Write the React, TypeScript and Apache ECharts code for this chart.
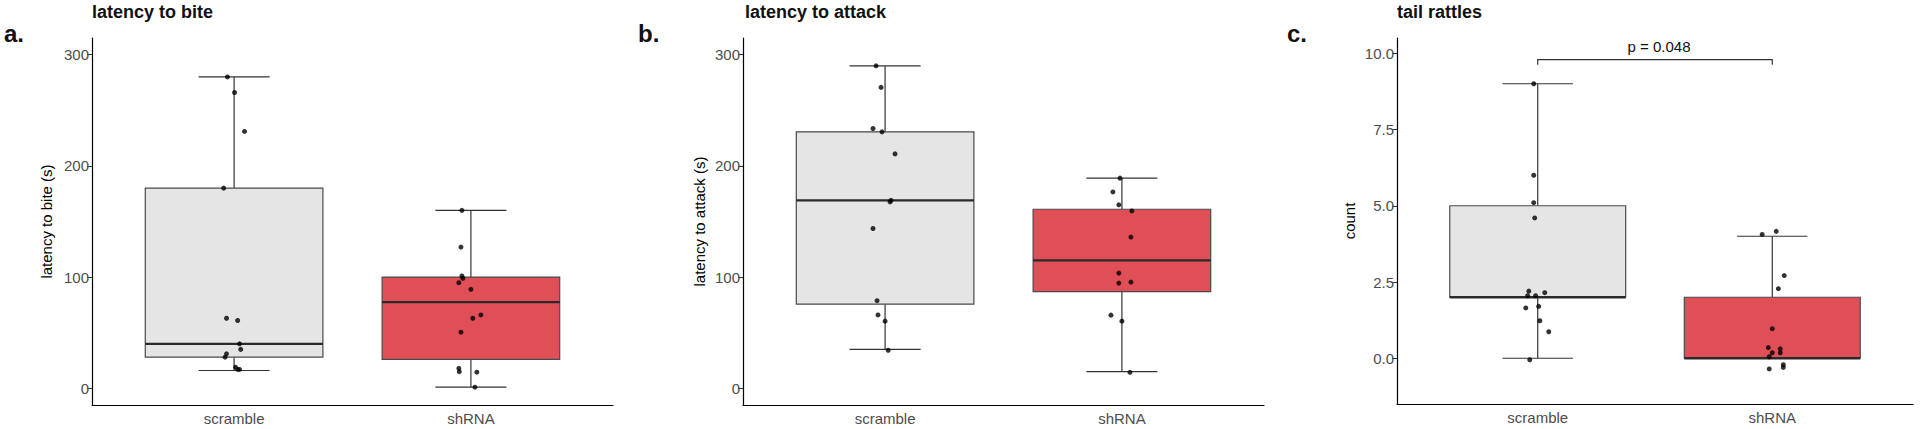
import React, { useEffect, useRef } from 'react';
import * as echarts from 'echarts';

const categories = ['scramble', 'shRNA'];
const panelTitles = ['latency to bite', 'latency to attack', 'tail rattles'];
const panelLetters = ['a.', 'b.', 'c.'];
const yAxisTitles = ['latency to bite (s)', 'latency to attack (s)', 'count'];

const latencyTicks = [0, 100, 200, 300];
const countTicks = [0, 2.5, 5, 7.5, 10];

// box stats: [lower whisker, Q1, median, Q3, upper whisker]
const biteBoxScramble = [16, 28, 40, 180, 280];
const biteBoxShRNA = [1, 26, 77.5, 100, 160];
const attackBoxScramble = [35, 75.7, 169, 230.6, 290];
const attackBoxShRNA = [15, 87, 115, 161, 189];
const rattleBoxScramble = [0, 2, 2, 5, 9];
const rattleBoxShRNA = [0, 0, 0, 2, 4];

// jittered points (x position on the group axis, value)
const biteScrambleX = [0.972, 1.002, 1.044, 0.956, 0.968, 1.015, 1.023, 1.028, 0.968, 0.962, 1.006, 1.015, 1.023];
const biteScrambleY = [280, 266, 231, 180, 63, 61, 40, 35, 31, 28, 19, 17, 17];
const biteShRNAX = [1.962, 1.958, 1.962, 1.966, 1.949, 2.0, 2.042, 2.008, 1.958, 1.949, 1.951, 2.025, 2.017];
const biteShRNAY = [160, 127, 101, 99, 95, 89, 66, 63, 50.5, 18, 15, 14.5, 1];

const attackScrambleX = [0.962, 0.983, 0.949, 0.987, 1.042, 1.025, 1.021, 0.949, 0.966, 0.97, 1.0, 1.013];
const attackScrambleY = [290, 270.6, 233.6, 230.6, 210.8, 169, 167.6, 143.7, 78.8, 66, 60.4, 34.2];
const attackShRNAX = [1.992, 1.962, 1.987, 2.042, 2.038, 1.987, 1.987, 2.038, 1.954, 2.0, 2.034];
const attackShRNAY = [189, 176.6, 165, 159.5, 136, 103.6, 94.6, 95.5, 65.8, 60.4, 14.4];

const rattleScrambleX = [0.983, 0.983, 0.983, 0.987, 0.962, 1.03, 0.957, 0.991, 0.949, 1.004, 1.009, 1.047, 0.966];
const rattleScrambleY = [9.0, 6.0, 5.1, 4.6, 2.2, 2.15, 2.05, 2.05, 1.65, 1.7, 1.23, 0.87, -0.05];
const rattleShRNAX = [1.957, 2.017, 2.051, 2.026, 2.0, 1.983, 2.034, 2.0, 2.034, 1.987, 2.047, 2.047, 1.987];
const rattleShRNAY = [4.06, 4.16, 2.71, 2.28, 0.97, 0.35, 0.31, 0.18, 0.18, 0.05, -0.21, -0.3, -0.35];

// significance bracket in panel c: [x1, x2, top, legBottom]
const rattleBracket = [1, 2, 9.79, 9.62];
const rattlePLabel = 'p = 0.048';

const boxFills = ['#E5E5E5', '#E04F57'];

const FONT = "'Liberation Sans', Arial, sans-serif";

export default function App() {
  const ref = useRef<HTMLDivElement>(null);

  useEffect(() => {
    if (!ref.current) return;
    const chart = echarts.init(ref.current, null, { renderer: 'svg' });

    const grids = [
      { left: 92, top: 38, width: 521, height: 367 },
      { left: 743, top: 38, width: 521, height: 367 },
      { left: 1397, top: 38, width: 516, height: 366 },
    ];

    const yRanges = [
      [-15, 315],
      [-15, 315],
      [-1.5, 10.5],
    ];
    const yTicks = [latencyTicks, latencyTicks, countTicks];
    const nameGaps = [38, 36, 40];

    const xAxes = grids.map((_, i) => ({
      type: 'value',
      gridIndex: i,
      min: 0.4,
      max: 2.6,
      splitLine: { show: false },
      axisLine: { show: true, onZero: false, lineStyle: { color: '#000', width: 1.2 } },
      axisTick: { show: false },
      axisLabel: {
        customValues: [1, 2],
        formatter: (v: number) => categories[Math.round(v) - 1] ?? '',
        color: '#4D4D4D',
        fontSize: 15,
        fontFamily: FONT,
        margin: 6,
      },
    }));

    const yAxes = grids.map((_, i) => ({
      type: 'value',
      gridIndex: i,
      min: yRanges[i][0],
      max: yRanges[i][1],
      name: yAxisTitles[i],
      nameLocation: 'middle',
      nameGap: nameGaps[i],
      nameRotate: 90,
      nameTextStyle: { color: '#000', fontSize: 15, fontFamily: FONT },
      splitLine: { show: false },
      axisLine: { show: true, onZero: false, lineStyle: { color: '#000', width: 1.2 } },
      axisTick: { show: true, customValues: yTicks[i], length: 5, lineStyle: { color: '#333', width: 1 } },
      axisLabel: {
        customValues: yTicks[i],
        formatter: (v: number) => (i === 2 ? v.toFixed(1) : String(v)),
        color: '#4D4D4D',
        fontSize: 15,
        fontFamily: FONT,
        margin: 3,
      },
    }));

    const renderBox = (params: any, api: any) => {
      const x = api.value(0);
      const lo = api.value(1), q1 = api.value(2), med = api.value(3), q3 = api.value(4), hi = api.value(5);
      const pLo = api.coord([x, lo]);
      const pQ1 = api.coord([x, q1]);
      const pMed = api.coord([x, med]);
      const pQ3 = api.coord([x, q3]);
      const pHi = api.coord([x, hi]);
      const halfW = api.size([0.75, 0])[0] / 2;
      const capHalf = api.size([0.3, 0])[0] / 2;
      const cx = pMed[0];
      const lineStyle = { stroke: '#333', lineWidth: 1.2 };
      return {
        type: 'group',
        children: [
          { type: 'line', shape: { x1: cx, y1: pQ3[1], x2: cx, y2: pHi[1] }, style: lineStyle },
          { type: 'line', shape: { x1: cx, y1: pQ1[1], x2: cx, y2: pLo[1] }, style: lineStyle },
          { type: 'line', shape: { x1: cx - capHalf, y1: pHi[1], x2: cx + capHalf, y2: pHi[1] }, style: lineStyle },
          { type: 'line', shape: { x1: cx - capHalf, y1: pLo[1], x2: cx + capHalf, y2: pLo[1] }, style: lineStyle },
          {
            type: 'rect',
            shape: { x: cx - halfW, y: pQ3[1], width: halfW * 2, height: pQ1[1] - pQ3[1] },
            style: { fill: boxFills[params.dataIndex], stroke: '#4a4a4a', lineWidth: 1.2 },
          },
          { type: 'line', shape: { x1: cx - halfW, y1: pMed[1], x2: cx + halfW, y2: pMed[1] }, style: { stroke: '#2a2a2a', lineWidth: 2.4 } },
        ],
      };
    };

    const boxData = [
      [biteBoxScramble, biteBoxShRNA],
      [attackBoxScramble, attackBoxShRNA],
      [rattleBoxScramble, rattleBoxShRNA],
    ];
    const pointData = [
      [[biteScrambleX, biteScrambleY], [biteShRNAX, biteShRNAY]],
      [[attackScrambleX, attackScrambleY], [attackShRNAX, attackShRNAY]],
      [[rattleScrambleX, rattleScrambleY], [rattleShRNAX, rattleShRNAY]],
    ];

    const series: any[] = [];
    boxData.forEach((boxes, i) => {
      series.push({
        type: 'custom',
        xAxisIndex: i,
        yAxisIndex: i,
        renderItem: renderBox,
        encode: { x: 0, y: [1, 2, 3, 4, 5] },
        data: boxes.map((b, k) => [k + 1, ...b]),
        z: 2,
        silent: true,
      });
      const pts: number[][] = [];
      pointData[i].forEach(([xs, ys]) => xs.forEach((xv, j) => pts.push([xv, ys[j]])));
      series.push({
        type: 'scatter',
        xAxisIndex: i,
        yAxisIndex: i,
        symbol: 'circle',
        symbolSize: 5,
        itemStyle: { color: '#000' },
        data: pts,
        z: 5,
        silent: true,
      });
    });

    series.push({
      type: 'custom',
      xAxisIndex: 2,
      yAxisIndex: 2,
      data: [rattleBracket],
      encode: { x: [0, 1], y: [2, 3] },
      z: 6,
      silent: true,
      renderItem: (_p: any, api: any) => {
        const a = api.coord([api.value(0), api.value(3)]);
        const b = api.coord([api.value(0), api.value(2)]);
        const c = api.coord([api.value(1), api.value(2)]);
        const d = api.coord([api.value(1), api.value(3)]);
        const mid = api.coord([(api.value(0) + api.value(1)) / 2, api.value(2)]);
        return {
          type: 'group',
          children: [
            { type: 'polyline', shape: { points: [a, b, c, d] }, style: { stroke: '#333', lineWidth: 1.2, fill: 'none' } },
            {
              type: 'text',
              x: mid[0] + 4,
              y: mid[1] - 6,
              style: { text: rattlePLabel, fill: '#111', font: `15px ${FONT}`, align: 'center', verticalAlign: 'bottom' },
            },
          ],
        };
      },
    });

    const graphics: any[] = [];
    const titleX = [92, 745, 1397];
    const letterX = [4, 638, 1287];
    for (let i = 0; i < 3; i++) {
      graphics.push({
        type: 'text',
        x: titleX[i],
        y: 11.5,
        style: { text: panelTitles[i], fill: '#111', font: `bold 18px ${FONT}`, align: 'left', verticalAlign: 'middle' },
      });
      graphics.push({
        type: 'text',
        x: letterX[i],
        y: 33,
        style: { text: panelLetters[i], fill: '#111', font: `bold 24px ${FONT}`, align: 'left', verticalAlign: 'middle' },
      });
    }

    chart.setOption({
      animation: false,
      backgroundColor: '#fff',
      grid: grids.map((g) => ({ ...g, containLabel: false })),
      xAxis: xAxes,
      yAxis: yAxes,
      series,
      graphic: graphics,
    });

    return () => chart.dispose();
  }, []);

  return <div ref={ref} style={{ position: 'fixed', left: 0, top: 0, width: 1920, height: 429 }} />;
}
